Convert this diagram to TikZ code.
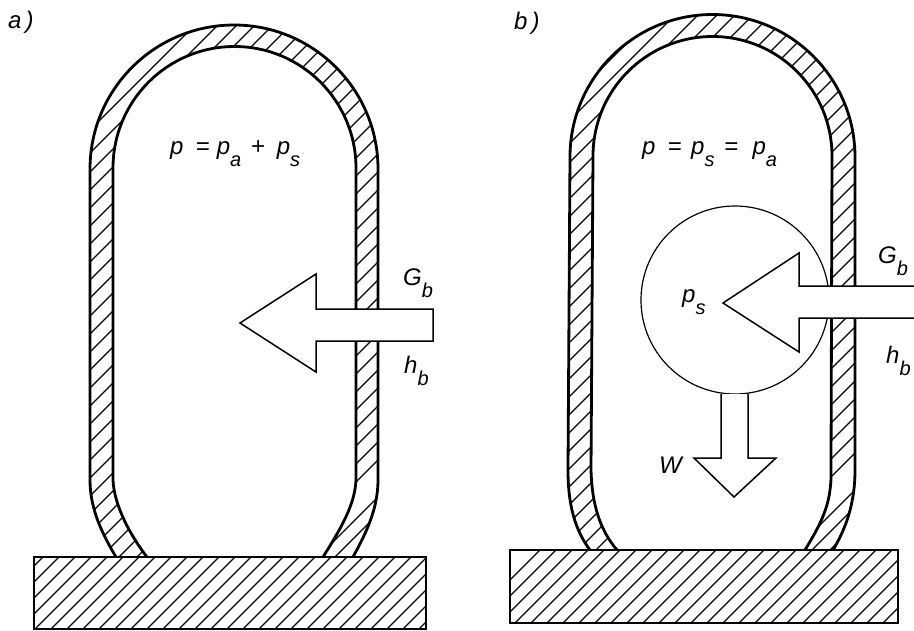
\documentclass[tikz,border=0pt]{standalone}
\usepackage{fontspec}
\setsansfont{Liberation Sans}
\newcommand{\sublab}[2]{#1\raisebox{-.52em}{\fontsize{20}{22}\selectfont #2}}
\begin{document}
\begin{tikzpicture}[
  x=1pt, y=-1pt,
  wall/.style={line width=2.8pt, line join=round},
  plate/.style={line width=2.2pt},
  hatchline/.style={line width=1.3pt},
  flow/.style={draw, fill=white, line width=1.5pt, line join=miter},
  lab/.style={inner sep=0pt, anchor=base west, font=\fontsize{24}{26}\sffamily\itshape}
]
\useasboundingbox (0,0) rectangle (914,630);
% ===== Panel a: open vessel =====
\begin{scope}
  \clip (90,169) arc[start angle=180, end angle=360, radius=144] -- (378,480)
    .. controls (378,510) and (365,535) .. (353,557) -- (323,557)
    .. controls (340,530) and (355,505) .. (356,480) -- (356,168)
    arc[start angle=360, end angle=180, radius=121.5] -- (113,480)
    .. controls (114,505) and (130,535) .. (147,557) -- (116,557)
    .. controls (103,535) and (90,510) .. (90,480) -- cycle;
  \foreach \c in {200,220,243,262,280,...,838,875,892,910}
    \draw[hatchline] (\c-600,600) -- (\c,0);
\end{scope}
\draw[wall] (116,557) .. controls (103,535) and (90,510) .. (90,480) -- (90,169)
  arc[start angle=180, end angle=360, radius=144] -- (378,480)
  .. controls (378,510) and (365,535) .. (353,557);
\draw[wall] (147,557) .. controls (130,535) and (114,505) .. (113,480) -- (113,168)
  arc[start angle=180, end angle=360, radius=121.5] -- (356,480)
  .. controls (355,505) and (340,530) .. (323,557);
\begin{scope}
  \clip (34,557) rectangle (426,629);
  \foreach \c in {600,616,...,1060}
    \draw[hatchline] (\c-700,700) -- (\c,0);
\end{scope}
\draw[plate] (34,557) rectangle (426,629);
\path[flow] (433,309) -- (316,309) -- (316,274) -- (240,323) -- (316,372) -- (316,341)
  -- (433,341) -- cycle;

% ===== Panel b: vessel with bubble =====
\begin{scope}
  \clip (570,157) arc[start angle=180, end angle=360, radius=142.5] -- (855,470)
    .. controls (855,505) and (845,530) .. (833,550) -- (805,550)
    .. controls (820,525) and (832,505) .. (831,470) -- (832,156)
    arc[start angle=360, end angle=180, radius=119.5] -- (591,470)
    .. controls (592,505) and (600,530) .. (617,550) -- (590,550)
    .. controls (575,530) and (568,505) .. (568,470) -- cycle;
  \foreach \c in {670,690,713,732,750,...,1310,1345,1362,1380}
    \draw[hatchline] (\c-600,600) -- (\c,0);
\end{scope}
\draw[wall] (590,550) .. controls (575,530) and (568,505) .. (568,470) -- (570,157)
  arc[start angle=180, end angle=360, radius=142.5] -- (855,470)
  .. controls (855,505) and (845,530) .. (833,550);
\draw[wall] (617,550) .. controls (600,530) and (592,505) .. (591,470) -- (593,156)
  arc[start angle=180, end angle=360, radius=119.5] -- (831,470)
  .. controls (832,505) and (820,525) .. (805,550);
\begin{scope}
  \clip (510,550) rectangle (898,623);
  \foreach \c in {1090,1106,...,1540}
    \draw[hatchline] (\c-700,700) -- (\c,0);
\end{scope}
\draw[plate] (510,550) rectangle (898,623);
\node[circle, draw, fill=white, line width=1.2pt, minimum size=188pt, inner sep=0pt] (bubble) at (735,300) {};
\path[flow] (914,286) -- (799,286) -- (799,253) -- (723,303) -- (799,352) -- (799,318)
  -- (914,318);
\path[flow] (721,394) -- (721,458) -- (694,458) -- (734,497) -- (776,458) -- (748,458) -- (748,394);

% ===== Labels =====
\node[lab] (laba) at (8,28) {a\,)};
\node[lab] (labb) at (514,29) {b\,)};
\node[lab] (eqa) at (170,154) {p\hspace{.5em}=\hspace{.3em}\sublab{p}{a}\hspace{.4em}+\hspace{.5em}\sublab{p}{s}};
\node[lab] (eqb) at (642,154) {p\hspace{.5em}=\hspace{.4em}\sublab{p}{s}\hspace{.4em}=\hspace{.6em}\sublab{p}{a}};
\node[lab] (ga) at (403,285) {\sublab{G}{b}};
\node[lab] (ha) at (404,373) {\sublab{h}{b}};
\node[lab] (gb) at (878,263) {\sublab{G}{b}};
\node[lab] (hb) at (886,363) {\sublab{h}{b}};
\node[lab] (ps) at (682,302) {\sublab{p}{s}};
\node[lab] (wt) at (659,473) {W};
\end{tikzpicture}
\end{document}
